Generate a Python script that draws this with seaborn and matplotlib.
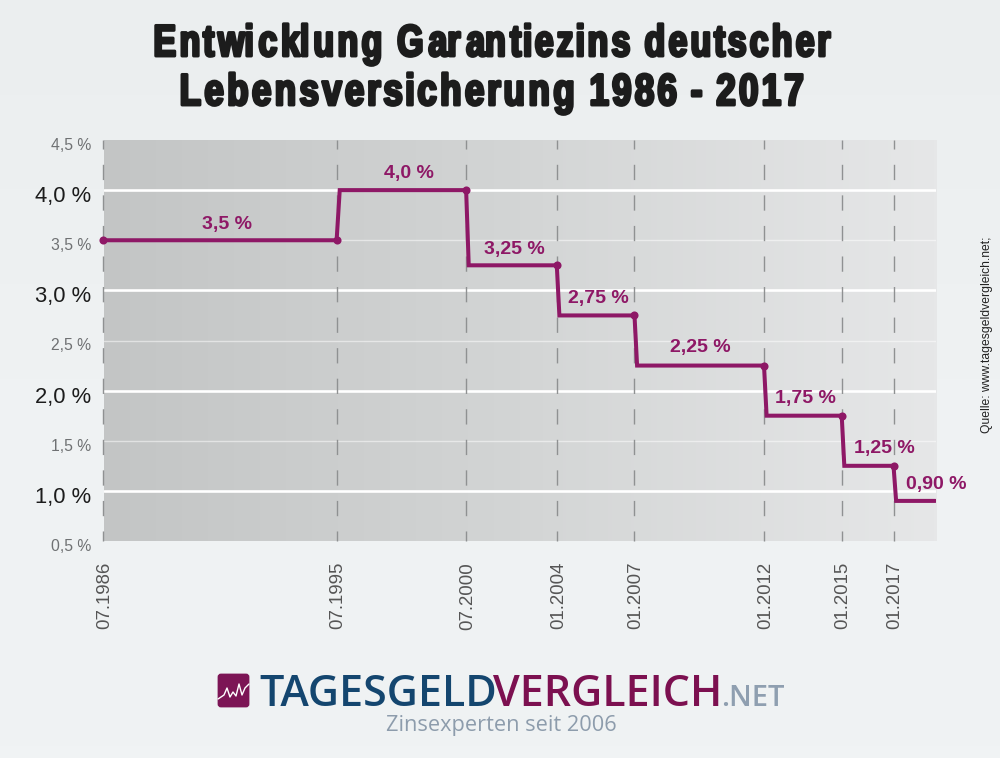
import numpy as np
import matplotlib
matplotlib.use("Agg")
import matplotlib.pyplot as plt
import matplotlib.patheffects as pe
from matplotlib.colors import LinearSegmentedColormap
from matplotlib.patches import FancyBboxPatch
from matplotlib.path import Path
from matplotlib.transforms import Affine2D, ScaledTranslation
import seaborn as sns

# Data
change_years = [1986.5, 1995.5, 2000.5, 2004.0, 2007.0, 2012.0, 2015.0, 2017.0]
date_labels = ["07.1986", "07.1995", "07.2000", "01.2004", "01.2007", "01.2012", "01.2015", "01.2017"]
rate_labels = ["3,5 %", "4,0 %", "3,25 %", "2,75 %", "2,25 %", "1,75 %", "1,25 %", "0,90 %"]
line_years = [1986.5, 1995.5, 1995.62, 2000.5, 2000.6, 2004.0, 2004.1, 2007.0,
              2007.1, 2012.0, 2012.1, 2015.0, 2015.1, 2017.0, 2017.1, 2018.62]
line_rates = [3.5, 3.5, 4.0, 4.0, 3.25, 3.25, 2.75, 2.75,
              2.25, 2.25, 1.75, 1.75, 1.25, 1.25, 0.9, 0.9]
marker_years = change_years
marker_rates = [3.5, 3.5, 4.0, 3.25, 2.75, 2.25, 1.75, 1.25]
label_years = [1991.27, 1998.3, 2002.35, 2005.6, 2009.53, 2013.6, 2016.63, 2018.64]
label_heights = [3.66, 4.17, 3.41, 2.92, 2.43, 1.92, 1.42, 1.06]
y_ticks = [0.5, 1.0, 1.5, 2.0, 2.5, 3.0, 3.5, 4.0, 4.5]
y_labels = ["0,5 %", "1,0 %", "1,5 %", "2,0 %", "2,5 %", "3,0 %", "3,5 %", "4,0 %", "4,5 %"]

PURPLE = "#8e1866"
W, H = 1000, 758


# no condensed font installed: squeeze each glyph on its own, which also leaves the wide tracking
class Condensed(pe.AbstractPathEffect):
    def __init__(self, sx, glyph_sx, cx, stroke):
        super().__init__()
        self.sx = sx
        self.glyph_sx = glyph_sx
        self.cx = cx
        self.stroke = stroke

    def narrow_glyphs(self, tpath):
        verts = tpath.vertices.copy()
        starts = list(np.where(tpath.codes == Path.MOVETO)[0]) + [len(verts)]
        parts = sorted((verts[a:b, 0].min(), verts[a:b, 0].max(), a, b) for a, b in zip(starts[:-1], starts[1:]))
        i = 0
        while i < len(parts):
            lo, hi = parts[i][:2]
            group = [parts[i]]
            i += 1
            while i < len(parts) and parts[i][0] < hi:
                hi = max(hi, parts[i][1])
                group.append(parts[i])
                i += 1
            mid = (lo + hi) / 2
            for _, _, a, b in group:
                verts[a:b, 0] = mid + (verts[a:b, 0] - mid) * self.glyph_sx
        return Path(verts, tpath.codes)

    def draw_path(self, renderer, gc, tpath, affine, rgbFace=None):
        squeeze = Affine2D().translate(-self.cx, 0).scale(self.sx, 1).translate(self.cx, 0)
        gc0 = renderer.new_gc()
        gc0.copy_properties(gc)
        gc0.set_linewidth(self.stroke)
        gc0.set_foreground(rgbFace)
        renderer.draw_path(gc0, self.narrow_glyphs(tpath), affine + squeeze, rgbFace)
        gc0.restore()


sns.set_theme(style="white")
plt.rcParams["font.family"] = ["Liberation Sans", "DejaVu Sans"]

fig = plt.figure(figsize=(W / 100, H / 100), dpi=100)

# page background
bg = fig.add_axes([0, 0, 1, 1], zorder=0)
bg_cmap = LinearSegmentedColormap.from_list("page", ["#ebeeef", "#eff2f3", "#f0f3f4"])
bg.imshow(np.linspace(0, 1, 64).reshape(-1, 1), cmap=bg_cmap, aspect="auto", extent=[0, W, H, 0])
bg.set_xlim(0, W)
bg.set_ylim(H, 0)
bg.axis("off")

# plot area in pixels: x 103.5-936, y 140-541
ax = fig.add_axes([103.5 / W, 1 - 541 / H, (936 - 103.5) / W, (541 - 140) / H], zorder=1)
ax.patch.set_alpha(0)
ax.set_xlim(1986.5, 2018.64)
ax.set_ylim(0.5, 4.5)

plot_cmap = LinearSegmentedColormap.from_list("area", ["#c3c5c5", "#d3d5d5", "#e6e7e8"])
ax.imshow(np.linspace(0, 1, 256).reshape(1, -1), cmap=plot_cmap, aspect="auto",
          extent=[1986.5, 2018.64, 0.5, 4.5], zorder=0)

# horizontal lines
for y in y_ticks[1:-1]:
    if y == int(y):
        ax.axhline(y, color="white", lw=1.9, zorder=1)
    else:
        ax.axhline(y, color="white", lw=1.0, alpha=0.5, zorder=1)

# dashed date lines
for x in change_years:
    ax.plot([x, x], [4.5, 0.5], color="#8f9192", lw=1.0,
            linestyle=(4.5, (11, 11)), zorder=2, clip_on=False)

sns.lineplot(x=line_years, y=line_rates, estimator=None, sort=False, color=PURPLE,
             lw=2.9, ax=ax, zorder=3, solid_joinstyle="miter")
sns.scatterplot(x=marker_years, y=marker_rates, color=PURPLE, s=34, linewidth=0,
                ax=ax, zorder=4, clip_on=False)

for x, y, t in zip(label_years, label_heights, rate_labels):
    ax.text(x, y, t, color=PURPLE, fontsize=14, fontweight="bold", ha="center", va="center", zorder=5)

# axes
ax.set_xticks(change_years)
ax.set_xticklabels(date_labels, rotation=90, fontsize=13.4, color="#555555")
ax.set_yticks(y_ticks)
ax.set_yticklabels(y_labels)
ax.tick_params(axis="x", length=0, pad=15)
ax.tick_params(axis="y", length=0, pad=9)
x_shift = ScaledTranslation(1.5 / 100, 0, fig.dpi_scale_trans)
for lab in ax.get_xticklabels():
    lab.set_transform(lab.get_transform() + x_shift)
shift = ScaledTranslation(0, -4 / 100, fig.dpi_scale_trans)
for y, lab in zip(y_ticks, ax.get_yticklabels()):
    lab.set_transform(lab.get_transform() + shift)
    if y == int(y):
        lab.set_fontsize(15.8)
        lab.set_color("#1c1c1c")
    else:
        lab.set_fontsize(11.3)
        lab.set_color("#6f7173")
sns.despine(ax=ax, left=True, bottom=True)
ax.set_xlabel("")
ax.set_ylabel("")

# title
for txt, py, sx in [("Entwicklung Garantiezins deutscher", 56, 0.888),
                    ("Lebensversicherung 1986 - 2017", 105, 0.917)]:
    fig.text(492 / W, 1 - py / H, txt, ha="center", va="baseline", color="#1c1c1c",
             fontsize=32, fontweight="bold",
             path_effects=[Condensed(sx, 0.86, 492, 2.1)])

# source note
fig.text(987 / W, 1 - 433 / H, "Quelle: www.tagesgeldvergleich.net;", rotation=90, ha="center",
         va="bottom", fontsize=8.7, color="#222222")

# logo
bg.add_patch(FancyBboxPatch((219, 675), 29, 31, boxstyle="round,pad=0,rounding_size=2",
                            facecolor="#7c1555", edgecolor="#7c1555", lw=2))
bg.plot([218, 224, 227, 230, 233, 236, 239, 242, 245, 249],
        [699, 695, 688, 697, 692, 696, 684, 695, 688, 684], color="white", lw=1.0)
logo_font = ["Open Sans", "DejaVu Sans"]
bg.text(259, 706, "TAGESGELD", color="#14466f", fontsize=31, fontweight="semibold",
        family=logo_font, va="baseline", ha="left")
bg.text(722, 706, "VERGLEICH", color="#7c1050", fontsize=31, fontweight="semibold",
        family=logo_font, va="baseline", ha="right")
bg.text(785, 706, ".NET", color="#8f9fb0", fontsize=21, fontweight="semibold",
        family=logo_font, va="baseline", ha="right")
bg.text(501, 726, "Zinsexperten seit 2006", color="#8d9cac", fontsize=15.7,
        family=logo_font, va="center", ha="center")

fig.savefig("out.png", dpi=100)
